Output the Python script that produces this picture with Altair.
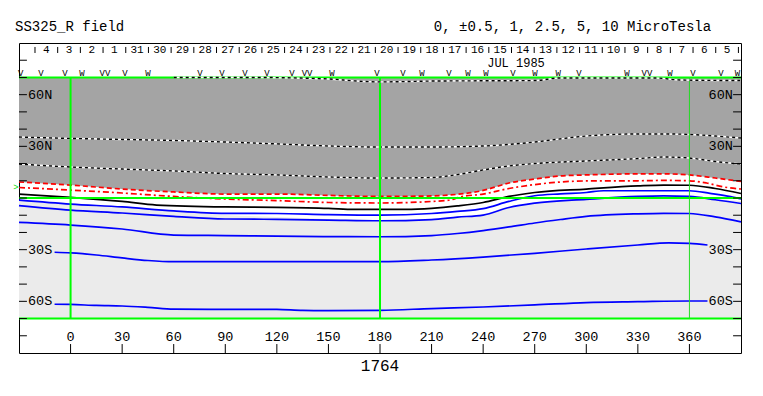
import altair as alt
import pandas as pd

FONT = "Liberation Mono"

# ---------------- data ----------------
# contour 1 (white/black dashed, near 70N)
c1_lon = [60, 105, 150, 165, 180, 210, 270, 285, 340, 355, 390]
c1_lat = [70.0, 70.0, 69.1, 68.0, 67.4, 67.9, 68.2, 69.7, 69.7, 68.5, 68.2]
# contour 2 (white/black dashed, ~33N)
c2_lon = [-30, 0, 30, 60, 90, 120, 150, 180, 210, 240, 255, 270, 300, 330, 345, 360, 375, 390]
c2_lat = [35.4, 34.6, 34.0, 33.4, 32.5, 31.4, 30.2, 29.6, 29.6, 30.2, 31.1, 32.5, 36.0, 37.2, 37.2, 36.9, 36.0, 34.8]
# contour 3 (white/black dashed, ~18N)
c3_lon = [-30, 0, 30, 60, 90, 120, 150, 180, 210, 225, 240, 255, 270, 300, 330, 345, 360, 375, 390]
c3_lat = [19.7, 18.0, 16.8, 15.7, 14.2, 13.4, 12.2, 11.6, 11.9, 13.6, 16.3, 18.6, 20.0, 21.5, 22.9, 23.8, 23.2, 21.2, 19.7]
# contour 4 (red dashed)
c4_lon = [-30, 0, 30, 60, 90, 120, 150, 180, 210, 220, 240, 255, 270, 285, 300, 330, 345, 360, 375, 390]
c4_lat = [9.3, 7.5, 5.2, 3.5, 2.3, 2.3, 1.5, 0.9, 1.2, 1.7, 4.4, 8.7, 11.0, 12.8, 13.4, 14.0, 14.0, 13.4, 11.6, 9.6]
# contour 5 (red dash-dot)
c5_lon = [-30, 0, 30, 60, 90, 120, 150, 180, 210, 220, 227, 240, 255, 270, 285, 300, 330, 345, 360, 370, 380, 390]
c5_lat = [6.1, 4.6, 2.9, 0.9, -0.6, -1.5, -2.6, -2.9, -2.0, -1.3, 0.7, 2.3, 5.5, 7.8, 9.3, 9.9, 10.0, 10.2, 10.0, 8.7, 6.4, 5.2]
# contour 6 (black solid)
c6_lon = [-30, 0, 30, 50, 90, 120, 150, 165, 195, 210, 225, 240, 255, 270, 300, 330, 345, 360, 375, 390]
c6_lat = [2.3, 0.4, -2.0, -4.1, -5.2, -5.4, -6.0, -6.6, -6.6, -6.0, -4.6, -2.6, 0.9, 3.2, 5.2, 7.0, 7.5, 7.4, 5.5, 2.6]
# contours 7-11 (blue solid)
c7_lon = [-30, 0, 30, 60, 90, 120, 150, 180, 210, 225, 240, 255, 270, 285, 300, 310, 360, 372, 384, 390]
c7_lat = [-1.2, -3.5, -5.2, -7.5, -8.9, -9.0, -9.6, -9.9, -9.0, -7.8, -6.2, -2.0, 1.3, 2.4, 3.2, 4.2, 4.2, 2.7, 0.8, -0.6]
c8_lon = [-30, 0, 30, 60, 90, 120, 150, 180, 210, 225, 240, 255, 270, 300, 330, 345, 360, 375, 390]
c8_lat = [-4.4, -7.0, -8.7, -10.7, -12.2, -12.4, -12.8, -13.2, -12.5, -11.1, -9.9, -5.5, -3.0, -0.8, 0.9, 1.2, 0.9, -1.0, -3.2]
c9_lon = [-30, 0, 30, 60, 90, 120, 150, 180, 210, 225, 240, 255, 270, 285, 300, 330, 345, 360, 375, 390]
c9_lat = [-14.2, -15.7, -18.0, -21.5, -21.8, -22.1, -22.4, -22.5, -21.8, -20.6, -18.9, -16.8, -14.5, -12.5, -10.7, -9.2, -8.9, -9.0, -11.0, -13.9]
c10_lon = [-9.3, 0, 15, 30, 45, 60, 90, 120, 150, 180, 210, 240, 270, 300, 330, 348, 360, 370.5]
c10_lat = [-31.5, -31.9, -33.1, -34.8, -36.3, -37.0, -37.0, -37.0, -37.0, -37.0, -36.0, -34.3, -32.1, -29.6, -27.3, -26.1, -26.4, -27.3]
c11_lon = [-9.3, 0, 15, 30, 45, 60, 90, 120, 135, 150, 180, 210, 240, 270, 300, 330, 360, 370.5]
c11_lat = [-61.7, -61.8, -62.4, -62.7, -63.5, -64.5, -64.7, -64.7, -65.3, -65.4, -65.2, -64.2, -63.3, -62.1, -60.7, -60.2, -59.8, -59.8]
# upper edge of the light-gray (southern) region
lg_lon = [-30, 0, 30, 60, 90, 120, 150, 180, 210, 225, 240, 255, 270, 300, 330, 345, 360, 375, 390]
lg_lat = [-1.2, -2.9, -5.2, -7.5, -9.9, -11.0, -12.2, -12.8, -12.2, -11.0, -9.3, -5.8, -2.9, -0.6, 0.3, 0.6, 0.3, -0.6, -1.7]

# plot limits
LON_MIN, LON_MAX = -30, 390
LAT_MIN, LAT_MAX = -90, 90
MAP_N, MAP_S = 70, -70

# axis ticks / labels
lon_ticks = [0, 30, 60, 90, 120, 150, 180, 210, 240, 270, 300, 330, 360]
lat_ticks = [-80, -70, -60, -50, -40, -30, -20, -10, 0, 10, 20, 30, 40, 50, 60, 70, 80]
lat_lab_vals = [60, 30, -30, -60]
lat_lab_txt = ["60N", "30N", "30S", "60S"]

# date strip (Carrington rotation 1764, JUL 1985)
day_labels = ["4", "3", "2", "1", "31", "30", "29", "28", "27", "26", "25", "24", "23", "22", "21",
              "20", "19", "18", "17", "16", "15", "14", "13", "12", "11", "10", "9", "8", "7", "6", "5"]
day_lon = [-14.1, -0.9, 12.3, 25.5, 38.7, 51.9, 65.1, 78.3, 91.5, 104.7, 117.9, 131.1, 144.3, 157.5, 170.7,
           183.9, 197.1, 210.3, 223.5, 236.7, 249.9, 263.1, 276.3, 289.5, 302.7, 315.9, 329.1, 342.3, 355.5, 368.7, 381.9]
sep_lon = [-20.7, -7.5, 5.7, 18.9, 32.1, 45.3, 58.5, 71.7, 84.9, 98.1, 111.3, 124.5, 137.7, 150.9, 164.1, 177.3,
           190.5, 203.7, 216.9, 230.1, 243.3, 256.5, 269.7, 282.9, 296.1, 309.3, 322.5, 335.7, 348.9, 362.1, 375.3, 388.5]
mark_lon = [-29.0, -17.2, -3.3, 6.6, 20.0, 31.6, 45.0, 75.3, 88.0, 101.5, 114.3, 128.8, 137.6, 152.0, 178.2,
            193.4, 204.4, 220.1, 231.2, 241.6, 257.4, 270.2, 283.6, 295.8, 323.7, 335.3, 348.7, 362.1, 378.4, 388.0]
mark_txt = ["V", "V", "V", "W", "VV", "V", "W", "V", "V", "V", "V", "V", "VV", "W", "V",
            "V", "W", "V", "W", "W", "V", "W", "W", "V", "W", "VV", "W", "V", "V", "W"]

# ---------------- helpers ----------------
XS = alt.Scale(domain=[LON_MIN, LON_MAX], nice=False, zero=False)
YS = alt.Scale(domain=[LAT_MIN, LAT_MAX], nice=False, zero=False)


def X(f="lon"):
    return alt.X(f"{f}:Q", scale=XS, axis=None)


def Y(f="lat"):
    return alt.Y(f"{f}:Q", scale=YS, axis=None)


def df(lons, lats):
    return pd.DataFrame({"lon": lons, "lat": lats})


def line(lons, lats, color, width=1.7, dash=None):
    kw = dict(color=color, strokeWidth=width, interpolate="monotone")
    if dash:
        kw["strokeDash"] = dash
    return alt.Chart(df(lons, lats)).mark_line(**kw).encode(x=X(), y=Y())


def wb_line(lons, lats):
    return [line(lons, lats, "white", 1.4), line(lons, lats, "black", 1.4, [3, 3])]


def hrule(lats, x_a, x_b, color="black", width=1.0):
    d = pd.DataFrame({"lat": lats, "xa": [x_a] * len(lats), "xb": [x_b] * len(lats)})
    return alt.Chart(d).mark_rule(color=color, strokeWidth=width).encode(
        y=Y(), x=X("xa"), x2=alt.X2("xb:Q"))


def vrule(lons, y_a, y_b, color="black", width=1.0):
    d = pd.DataFrame({"lon": lons, "ya": [y_a] * len(lons), "yb": [y_b] * len(lons)})
    return alt.Chart(d).mark_rule(color=color, strokeWidth=width).encode(
        x=X(), y=Y("ya"), y2=alt.Y2("yb:Q"))


def text(lons, lats, labels, size, align="center", color="black"):
    d = pd.DataFrame({"lon": lons, "lat": lats, "t": labels})
    return alt.Chart(d).mark_text(font=FONT, fontSize=size, baseline="middle", align=align,
                                  color=color).encode(x=X(), y=Y(), text="t:N")


layers = []
# shaded regions
d_dark = pd.DataFrame({"lon": c4_lon, "lat": c4_lat, "top": [MAP_N] * len(c4_lon)})
layers.append(alt.Chart(d_dark).mark_area(color="#a4a4a4", interpolate="monotone")
              .encode(x=X(), y=Y(), y2=alt.Y2("top:Q")))
d_light = pd.DataFrame({"lon": lg_lon, "lat": lg_lat, "bot": [MAP_S] * len(lg_lon)})
layers.append(alt.Chart(d_light).mark_area(color="#ebebeb", interpolate="monotone")
              .encode(x=X(), y=Y(), y2=alt.Y2("bot:Q")))

# contours
layers += wb_line(c2_lon, c2_lat)
layers += wb_line(c3_lon, c3_lat)
layers.append(line(c4_lon, c4_lat, "#ff0000", 1.7, [5, 3]))
layers.append(line(c5_lon, c5_lat, "#ff0000", 1.7, [6, 3, 2, 3]))
layers.append(line(c6_lon, c6_lat, "black", 1.7))
for lo, la in [(c7_lon, c7_lat), (c8_lon, c8_lat), (c9_lon, c9_lat), (c10_lon, c10_lat), (c11_lon, c11_lat)]:
    layers.append(line(lo, la, "#0000ff", 1.7))

# green reference lines
layers.append(hrule([MAP_N, 0, MAP_S], LON_MIN, LON_MAX, "#00ff00", 2))
layers.append(vrule([0, 180], MAP_S, MAP_N, "#00ff00", 2))
layers.append(vrule([360], MAP_S, MAP_N, "#22dd22", 1))
layers += wb_line(c1_lon, c1_lat)

# ticks
layers.append(vrule(lon_ticks, LAT_MIN, -84.8))
layers.append(hrule(lat_ticks, LON_MIN, -25.4))
layers.append(hrule(lat_ticks, 385.4, LON_MAX))
layers.append(vrule(sep_lon, 87.7, 84.2))

# tick labels
layers.append(text(lon_ticks, [-80.7] * len(lon_ticks), [str(v) for v in lon_ticks], 13.5))
layers.append(text([-24.8] * 4, lat_lab_vals, lat_lab_txt, 13.5, "left"))
layers.append(text([385.3] * 4, lat_lab_vals, lat_lab_txt, 13.5, "right"))

# date strip
layers.append(text(day_lon, [86.0] * len(day_lon), day_labels, 11))
layers.append(text([259.1], [78.4], ["JUL 1985"], 12))
layers.append(text(mark_lon, [72.3] * len(mark_lon), mark_txt, 9))
# subsolar marker
layers.append(text([-31.8], [6.4], [">"], 9, "center", "#00dd00"))

# rotation number and titles
layers.append(text([180], [-97.6], ["1764"], 16))
layers.append(text([-32.3], [99.3], ["SS325_R field"], 14, "left"))
layers.append(text([372.6], [99.3], ["0, \u00b10.5, 1, 2.5, 5, 10 MicroTesla"], 14, "right"))

chart = alt.layer(*layers).properties(
    width=722, height=310,
    padding={"left": 11, "top": 35, "right": 14, "bottom": 35},
    autosize=alt.AutoSizeParams(type="none"),
    background="white",
).configure_view(stroke="black", strokeWidth=1)

chart.save("out.html", embed_options={"renderer": "svg", "actions": False})
